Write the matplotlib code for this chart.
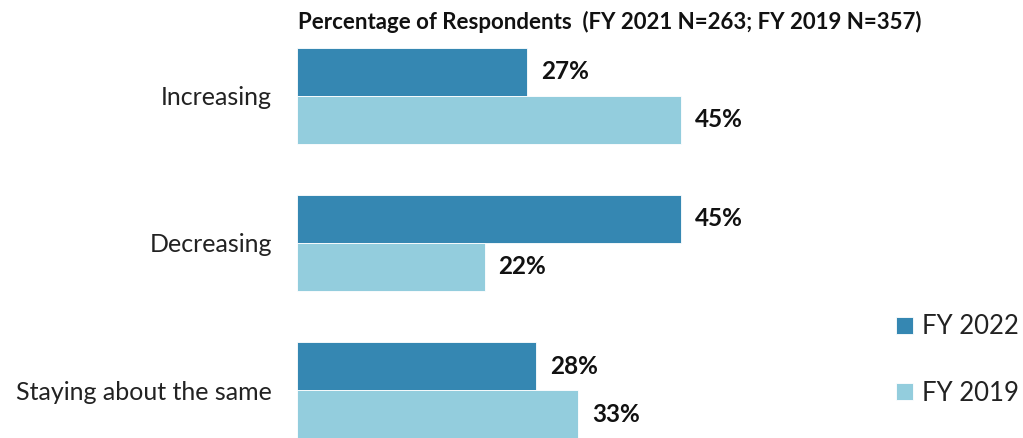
import numpy as np
import matplotlib.pyplot as plt
import matplotlib

matplotlib.rcParams['font.family'] = ['Lato', 'DejaVu Sans']

categories = ['Increasing', 'Decreasing', 'Staying about the same']
fy2022 = [27, 45, 28]
fy2019 = [45, 22, 33]
series_names = ['FY 2022', 'FY 2019']
title = 'Percentage of Respondents  (FY 2021 N=263; FY 2019 N=357)'

c_dark = '#3587b2'
c_light = '#93cddd'

W, H = 1023, 438
fig = plt.figure(figsize=(W / 100, H / 100), dpi=100)
# axes placed in pixel terms
left, right, top, bottom = 297, 297 + 8.53 * 60, 48, 438
ax = fig.add_axes([left / W, 1 - bottom / H, (right - left) / W, (bottom - top) / H])

y = np.arange(len(categories))
h = 48 / 147

b1 = ax.barh(y - h / 2, fy2022, h, color=c_dark, edgecolor='white', linewidth=0.6, label=series_names[0])
b2 = ax.barh(y + h / 2, fy2019, h, color=c_light, edgecolor='white', linewidth=0.6, label=series_names[1])

for bars in (b1, b2):
    for r in bars:
        ax.annotate(f'{r.get_width():.0f}%', (r.get_width(), r.get_y() + r.get_height() / 2),
                    xytext=(10, 0), textcoords='offset points', va='center', ha='left',
                    fontsize=17.5, fontweight='bold', color='#111111')

ax.set_xlim(0, 60)
ax.set_ylim(2 + h, -h)
ax.set_yticks(y)
ax.set_yticklabels(categories, fontsize=18, color='#222222')
ax.tick_params(axis='y', length=0, pad=18)
ax.set_xticks([])
for s in ax.spines.values():
    s.set_visible(False)

fig.text(610 / W, 1 - 22 / H, title, ha='center', va='center', fontsize=16,
         fontweight='bold', color='#111111')

leg = fig.legend(handles=[b1, b2], loc='center right', bbox_to_anchor=(1019 / W, 1 - 360 / H),
                 frameon=False, fontsize=18.5, handlelength=0.65, handleheight=0.65,
                 labelspacing=1.6, handletextpad=0.35, labelcolor='#222222',
                 borderpad=0, borderaxespad=0)

plt.savefig('out.png', dpi=100)
